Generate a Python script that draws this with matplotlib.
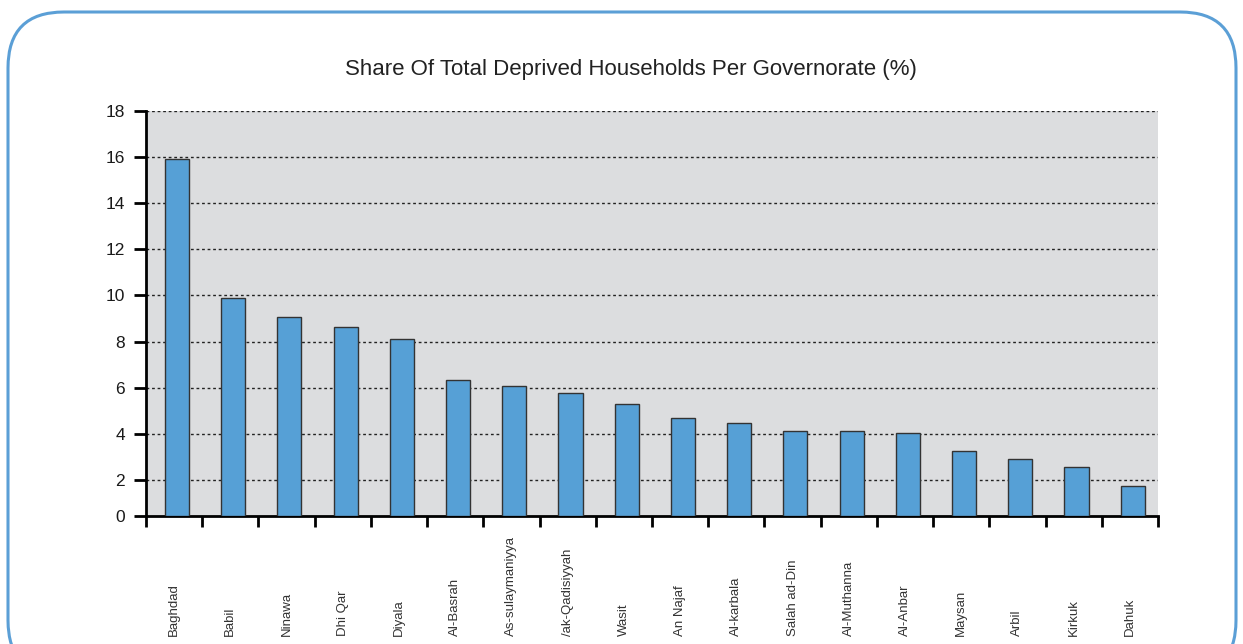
import numpy as np
import matplotlib.pyplot as plt
import matplotlib.transforms as mtransforms
from matplotlib.patches import FancyBboxPatch

governorates = ["Baghdad", "Babil", "Ninawa", "Dhi Qar", "Diyala", "Al-Basrah",
                "As-sulaymaniyya", "/ak-Qadisiyyah", "Wasit", "An Najaf", "Al-karbala",
                "Salah ad-Din", "Al-Muthanna", "Al-Anbar", "Maysan", "Arbil",
                "Kirkuk", "Dahuk"]
share = [15.9, 9.9, 9.05, 8.65, 8.13, 6.35, 6.09, 5.78, 5.27, 4.70, 4.47,
         4.12, 4.12, 4.01, 3.25, 2.9, 2.55, 1.74]
y_ticks = [0, 2, 4, 6, 8, 10, 12, 14, 16, 18]

plt.rcParams['font.family'] = ['Liberation Sans', 'DejaVu Sans']

fig = plt.figure(figsize=(12.43, 6.44), dpi=100)

# rounded blue frame around the panel (bottom edge runs off the page)
frame = FancyBboxPatch((8 / 1243, -0.05), 1228 / 1243, 1.05 - 12 / 644,
                       boxstyle="round,pad=0,rounding_size=0.045",
                       transform=fig.transFigure, facecolor='none',
                       edgecolor='#5b9fd6', lw=2.2, mutation_aspect=1243 / 644)
fig.patches.append(frame)

ax = fig.add_axes([146 / 1243, 1 - 516 / 644, 1012 / 1243, 405 / 644])
ax.set_facecolor('#dcdddf')

# the zero line sits a little above where a linear scale would put it
y0 = 0.43
ax.set_ylim(y0, 18)
ax.set_xlim(0, len(governorates))

x = np.arange(len(governorates)) + 0.55
ax.bar(x, np.array(share) - y0, bottom=y0, width=0.43, color='#56a0d6',
       edgecolor='#333333', linewidth=1.0, zorder=3)

for v in y_ticks[1:]:
    ax.axhline(v, color='#222222', lw=1.0, ls=(0, (2, 2)), zorder=2)

ax.set_yticks([y0] + y_ticks[1:])
ax.set_yticklabels([str(v) for v in y_ticks], fontsize=12.5, color='#1a1a1a')
ax.tick_params(axis='y', direction='out', length=9, width=2, pad=6)

ax.set_xticks(np.arange(len(governorates) + 1))
ax.set_xticklabels([])
ax.tick_params(axis='x', direction='out', length=8, width=2)

for s in ['top', 'right']:
    ax.spines[s].set_visible(False)
for s in ['left', 'bottom']:
    ax.spines[s].set_linewidth(2)
    ax.spines[s].set_color('black')

# category names, read bottom-to-top and aligned near the bottom edge
trans = mtransforms.blended_transform_factory(ax.transData, fig.transFigure)
for xi, name in zip(x, governorates):
    ax.text(xi - 0.05, 8 / 644, name, rotation=90, ha='center', va='bottom',
            fontsize=9.5, color='#333333', transform=trans)

fig.text(631 / 1243, 1 - 70 / 644, "Share Of Total Deprived Households Per Governorate (%)",
         ha='center', va='center', fontsize=16, color='#222222')

fig.savefig('out.png', dpi=100)
